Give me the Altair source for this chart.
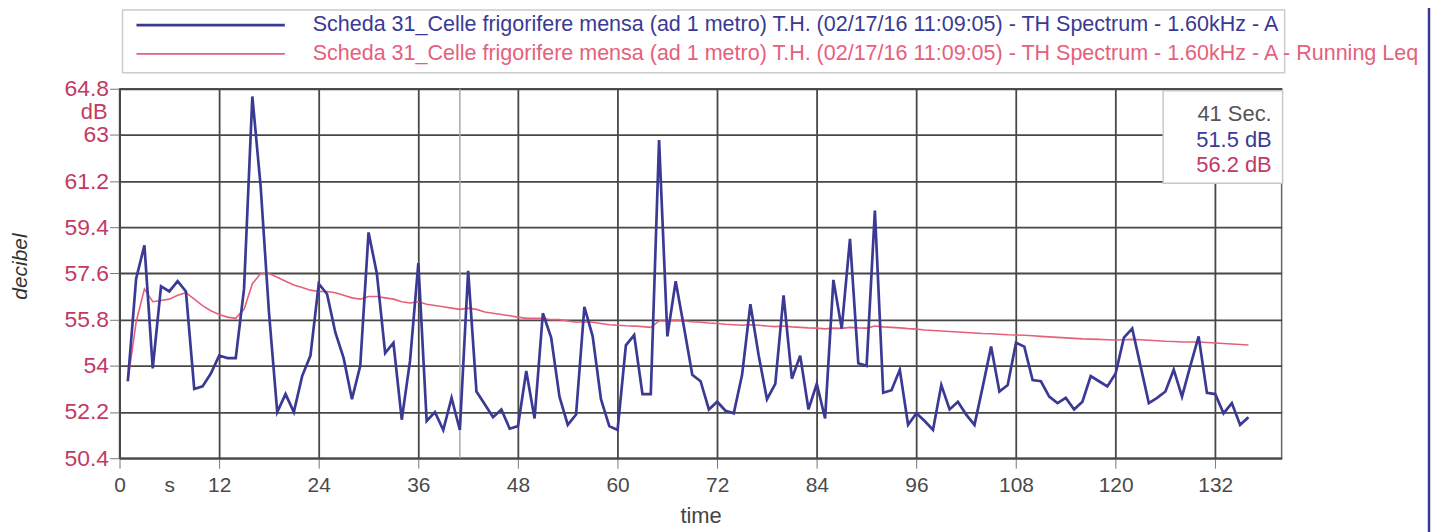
import altair as alt
import pandas as pd

# ---- data ----
seconds = list(range(1, 137))
th_level = [
    53.4, 57.4, 58.7, 53.9, 57.1, 56.9, 57.3, 56.9, 53.1, 53.2,
    53.7, 54.4, 54.3, 54.3, 57.0, 64.5, 61.0, 56.1, 52.2, 52.9,
    52.2, 53.6, 54.4, 57.2, 56.8, 55.3, 54.3, 52.7, 54.0, 59.2,
    57.6, 54.5, 54.9, 51.9, 54.2, 58.0, 51.85, 52.2, 51.5, 52.75,
    51.5, 57.7, 53.0, 52.5, 52.0, 52.3, 51.55, 51.65, 53.8, 51.95,
    56.05, 55.1, 52.8, 51.7, 52.1, 56.3, 55.15, 52.7, 51.65, 51.5,
    54.8, 55.2, 52.9, 52.9, 62.8, 55.15, 57.3, 55.5, 53.65, 53.4,
    52.3, 52.6, 52.25, 52.15, 53.65, 56.4, 54.4, 52.7, 53.3, 56.75,
    53.5, 54.4, 52.3, 53.3, 51.95, 57.35, 55.45, 58.95, 54.1, 54.0,
    60.05, 52.95, 53.05, 53.85, 51.7, 52.15, 51.85, 51.5, 53.25, 52.3,
    52.6, 52.1, 51.7, 53.2, 54.75, 53.0, 53.25, 54.9, 54.75, 53.45,
    53.4, 52.8, 52.55, 52.75, 52.3, 52.6, 53.6, 53.4, 53.2, 53.7,
    55.1, 55.45, 54.0, 52.55, 52.75, 53.0, 53.85, 52.8, 54.0, 55.15,
    52.95, 52.9, 52.15, 52.55, 51.7, 52.0,
]
running_leq = [
    53.4, 55.7, 57.0, 56.5, 56.55, 56.6, 56.75, 56.85, 56.6, 56.35,
    56.15, 56.0, 55.9, 55.85, 56.2, 57.2, 57.6, 57.6, 57.45, 57.3,
    57.15, 57.05, 56.95, 56.9, 56.9, 56.85, 56.75, 56.65, 56.6, 56.7,
    56.7, 56.65, 56.6, 56.5, 56.45, 56.5, 56.4, 56.35, 56.3, 56.25,
    56.2, 56.25, 56.2, 56.1, 56.05, 56.0, 55.95, 55.9, 55.85, 55.85,
    55.85, 55.8, 55.8, 55.75, 55.7, 55.72, 55.7, 55.65, 55.6, 55.58,
    55.56, 55.55, 55.53, 55.5, 55.75, 55.75, 55.77, 55.75, 55.72, 55.7,
    55.67, 55.65, 55.62, 55.6, 55.58, 55.6, 55.58, 55.55, 55.53, 55.55,
    55.52, 55.5, 55.48, 55.47, 55.44, 55.47, 55.46, 55.5, 55.48, 55.47,
    55.55, 55.52, 55.5, 55.48, 55.45, 55.43, 55.4, 55.38, 55.36, 55.34,
    55.32, 55.3, 55.28, 55.26, 55.25, 55.23, 55.21, 55.2, 55.19, 55.17,
    55.15, 55.13, 55.11, 55.09, 55.07, 55.05, 55.04, 55.03, 55.02, 55.01,
    55.02, 55.03, 55.02, 55.0, 54.98, 54.96, 54.95, 54.93, 54.93, 54.93,
    54.91, 54.89, 54.87, 54.85, 54.83, 54.81,
]
x_tick_values = [0, 6, 12, 24, 36, 48, 60, 72, 84, 96, 108, 120, 132]
y_tick_values = [50.4, 52.2, 54, 55.8, 57.6, 59.4, 61.2, 63, 64.8]
cursor_second = [41]
cursor_texts = ["41 Sec.", "51.5 dB", "56.2 dB"]
series_names = [
    "Scheda 31_Celle frigorifere mensa (ad 1 metro) T.H. (02/17/16 11:09:05) - TH Spectrum - 1.60kHz - A",
    "Scheda 31_Celle frigorifere mensa (ad 1 metro) T.H. (02/17/16 11:09:05) - TH Spectrum - 1.60kHz - A - Running Leq",
]

BLUE = "#3a3a94"
PINK = "#e6607c"
YLAB = "#c23a64"
FONT = "Liberation Sans, Arial, sans-serif"

df = pd.DataFrame({"t": seconds, "th": th_level, "leq": running_leq})
one = pd.DataFrame({"k": [0]})

xscale = alt.Scale(domain=[0, 140], nice=False, zero=False)
yscale = alt.Scale(domain=[50.4, 64.8], nice=False, zero=False)

xaxis = alt.Axis(
    values=x_tick_values,
    title="time",
    labelExpr="datum.value == 6 ? 's' : datum.label",
    gridOpacity={"condition": {"test": "datum.value == 6", "value": 0}, "value": 1},
    tickOpacity={"condition": {"test": "datum.value == 6", "value": 0}, "value": 1},
    labelFlush=False,
    labelColor="#4a4a4a",
    labelFontSize=21,
    labelFont=FONT,
    labelPadding=6,
    tickSize=10,
    tickColor="#777777",
    titleFont=FONT,
    titleFontSize=22,
    titleFontWeight="normal",
    titleColor="#444444",
    titlePadding=11,
)
yaxis = alt.Axis(
    values=y_tick_values,
    title="decibel",
    labelExpr="format(datum.value, '.1~f')",
    labelColor=YLAB,
    labelFontSize=23,
    labelFont=FONT,
    labelPadding=1,
    tickSize=10,
    tickColor="#777777",
    titleFont=FONT,
    titleFontSize=21,
    titleFontStyle="italic",
    titleFontWeight="normal",
    titleColor="#333333",
    titleX=-89,
    titleY=178,
)

base = alt.Chart(df)

cursor = alt.Chart(pd.DataFrame({"c": cursor_second})).mark_rule(
    color="#a8a8a8", strokeWidth=1.5
).encode(x=alt.X("c:Q", scale=xscale))

leq_line = base.mark_line(color=PINK, strokeWidth=1.6).encode(
    x=alt.X("t:Q", scale=xscale, axis=xaxis),
    y=alt.Y("leq:Q", scale=yscale, axis=yaxis),
)
th_line = base.mark_line(color=BLUE, strokeWidth=2.7).encode(
    x=alt.X("t:Q", scale=xscale),
    y=alt.Y("th:Q", scale=yscale),
)


def label(txt, x, y, color, size, align="left"):
    return alt.Chart(one).mark_text(
        text=txt, font=FONT, fontSize=size, color=color, align=align, baseline="middle"
    ).encode(x=alt.value(x), y=alt.value(y))


# dB unit under the top y label
db_unit = label("dB", -12, 23, YLAB, 22, "right")

# cursor read-out box
cursor_box = alt.Chart(one).mark_rect(fill="white", stroke="#c8c8c8", strokeWidth=1.5).encode(
    x=alt.value(1048), x2=alt.value(1168), y=alt.value(2), y2=alt.value(95)
)
cursor_layers = [
    label(cursor_texts[0], 1157, 25, "#555555", 22, "right"),
    label(cursor_texts[1], 1157, 51, BLUE, 22, "right"),
    label(cursor_texts[2], 1157, 77, YLAB, 22, "right"),
]

# series legend (above the plot)
leg_box = alt.Chart(one).mark_rect(fill="white", stroke="#cccccc", strokeWidth=1.5).encode(
    x=alt.value(3), x2=alt.value(1170), y=alt.value(-79), y2=alt.value(-16)
)
leg_line1 = alt.Chart(one).mark_rule(color=BLUE, strokeWidth=2.7).encode(
    x=alt.value(17), x2=alt.value(166), y=alt.value(-64)
)
leg_line2 = alt.Chart(one).mark_rule(color=PINK, strokeWidth=1.6).encode(
    x=alt.value(17), x2=alt.value(166), y=alt.value(-35)
)
leg_text1 = label(series_names[0], 194, -64, BLUE, 21.6)
leg_text2 = label(series_names[1], 194, -35, PINK, 21.6)

# scan border line at right
edge = alt.Chart(one).mark_rule(color=BLUE, strokeWidth=2.5).encode(
    x=alt.value(1315), y=alt.value(-90), y2=alt.value(450)
)

chart = alt.layer(
    cursor, leq_line, th_line, db_unit, cursor_box, *cursor_layers,
    leg_box, leg_line1, leg_line2, leg_text1, leg_text2, edge
).properties(
    width=1167, height=371,
    autosize=alt.AutoSizeParams(type="none"),
    padding={"left": 112, "top": 80, "right": 150, "bottom": 73},
    background="white",
).configure_axis(
    gridColor="#474747", gridWidth=1.8, domainColor="#474747", domainWidth=1.8,
).configure_view(stroke="#666666", strokeWidth=1.5)

chart.save("out.html", embed_options={"renderer": "svg", "actions": False})
